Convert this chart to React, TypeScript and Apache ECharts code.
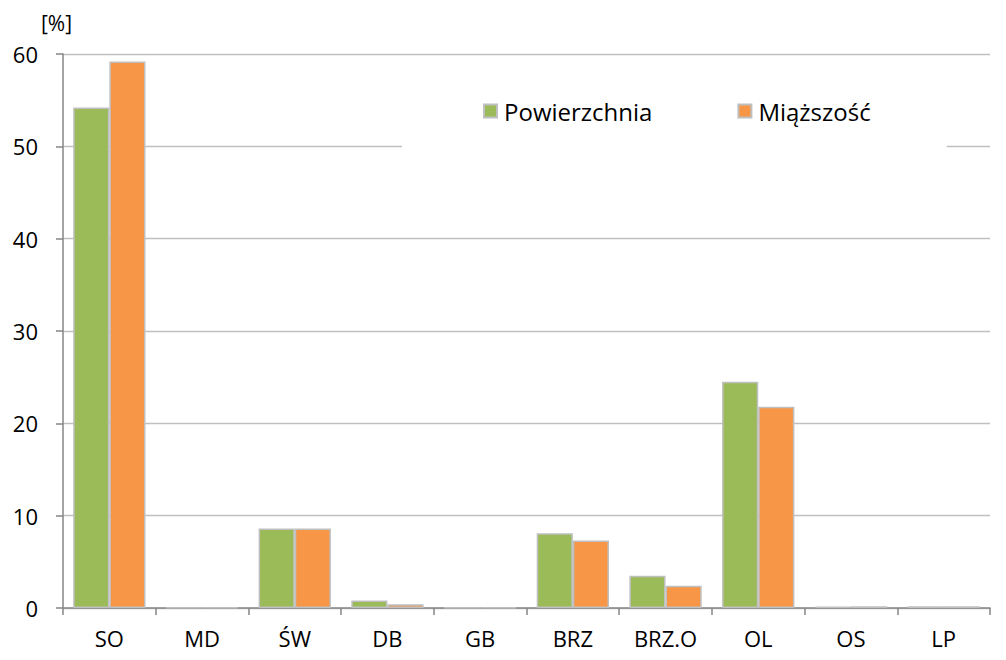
import React, { useEffect, useRef } from "react";
import * as echarts from "echarts";

const categories = ["SO", "MD", "ŚW", "DB", "GB", "BRZ", "BRZ.O", "OL", "OS", "LP"];
const powierzchnia = [54.2, 0.05, 8.6, 0.8, 0.05, 8.1, 3.5, 24.5, 0.15, 0.2];
const miazszosc = [59.2, 0.05, 8.6, 0.4, 0.05, 7.3, 2.4, 21.8, 0.2, 0.2];
const yTicks = { min: 0, max: 60, interval: 10 };

const FONT = "'Open Sans', 'Noto Sans', sans-serif";

export default function App() {
  const ref = useRef<HTMLDivElement>(null);
  useEffect(() => {
    if (!ref.current) return;
    const chart = echarts.init(ref.current, undefined, { renderer: "svg" });
    chart.setOption({
      animation: false,
      backgroundColor: "#ffffff",
      textStyle: { fontFamily: FONT },
      grid: { left: 63, right: 16, top: 54, bottom: 52, containLabel: false },
      graphic: [
        {
          type: "text",
          left: 41,
          top: 12,
          style: { text: "[%]", fontSize: 21, fontFamily: FONT, fill: "#000" },
        },
      ],
      legend: {
        left: 402,
        top: 84,
        padding: [15, 76, 29, 81],
        backgroundColor: "#ffffff",
        itemGap: 85,
        itemWidth: 13,
        itemHeight: 13,
        icon: "rect",
        textStyle: { fontSize: 24, fontFamily: FONT, color: "#000", padding: [0, 0, 0, 2] },
        data: ["Powierzchnia", "Miąższość"],
      },
      xAxis: {
        type: "category",
        data: categories,
        axisLine: { lineStyle: { color: "#868686", width: 1.5 } },
        axisTick: { show: true, length: 7, alignWithLabel: false, lineStyle: { color: "#868686", width: 1.5 } },
        axisLabel: { fontSize: 22, color: "#000", margin: 19, fontFamily: FONT },
        splitLine: { show: false },
      },
      yAxis: {
        type: "value",
        min: yTicks.min,
        max: yTicks.max,
        interval: yTicks.interval,
        axisLine: { show: true, lineStyle: { color: "#868686", width: 1.5 } },
        axisTick: { show: true, length: 7, inside: false, lineStyle: { color: "#868686", width: 1.5 } },
        axisLabel: { fontSize: 22, color: "#000", margin: 25, fontFamily: FONT },
        splitLine: { show: true, lineStyle: { color: "#c0c0c0", width: 1.3 } },
      },
      series: [
        {
          name: "Powierzchnia",
          type: "bar",
          data: powierzchnia,
          barGap: "0%",
          barCategoryGap: "22%",
          itemStyle: { color: "#9BBB59", borderColor: "#BFBFBF", borderWidth: 1.5 },
        },
        {
          name: "Miąższość",
          type: "bar",
          data: miazszosc,
          barGap: "0%",
          barCategoryGap: "22%",
          itemStyle: { color: "#F79646", borderColor: "#BFBFBF", borderWidth: 1.5 },
        },
      ],
    });
    return () => chart.dispose();
  }, []);
  return <div ref={ref} style={{ width: 1006, height: 660, margin: -8 }} />;
}
